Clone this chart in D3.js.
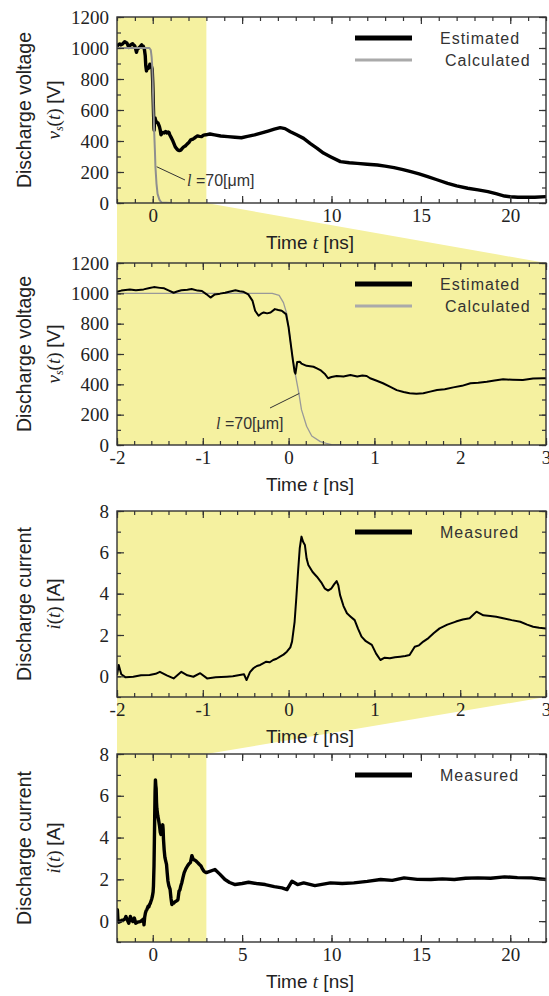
<!DOCTYPE html>
<html>
<head>
<meta charset="utf-8">
<script src="https://cdn.jsdelivr.net/npm/d3@7"></script>
<style>
  body { margin: 0; background: #fff; }
  svg { display: block; }
</style>
</head>
<body>
<script>
// calculated voltage (l = 70 um), t [ns] / v [V]
const calcT = [-2, -0.19, -0.11, -0.06, -0.02, 0.01, 0.04, 0.08, 0.12, 0.15, 0.21, 0.27, 0.37, 0.44, 0.5, 1.0];
const calcV = [1000, 1000, 987, 939, 863, 733, 602, 461, 341, 233, 124, 59, 22, 11, 3, 0];

// estimated discharge voltage
const estT = [-2.00, -1.95, -1.85, -1.78, -1.69, -1.62, -1.57, -1.50, -1.45, -1.40, -1.34, -1.30, -1.25, -1.18, -1.13, -1.06,
  -1.01, -0.96, -0.91, -0.86, -0.80, -0.74, -0.68, -0.62, -0.57, -0.53, -0.47, -0.42, -0.39, -0.35, -0.32, -0.29,
  -0.25, -0.21, -0.16, -0.12, -0.08, -0.03, 0.00, 0.03, 0.05, 0.07, 0.08, 0.10, 0.13, 0.15, 0.21, 0.29, 0.33, 0.37,
  0.42, 0.46, 0.50, 0.56, 0.64, 0.72, 0.80, 0.86, 0.91, 0.95, 1.02, 1.10, 1.18, 1.26, 1.34, 1.41, 1.49, 1.57, 1.65,
  1.73, 1.82, 1.92, 2.02, 2.12, 2.21, 2.31, 2.40, 2.50, 2.61, 2.73, 2.85, 2.97, 3.20, 3.46, 3.80, 4.20, 4.60, 4.96,
  5.30, 5.70, 6.10, 6.45, 6.80, 7.13, 7.40, 7.70, 8.05, 8.44, 8.80, 9.20, 9.55, 9.94, 10.50, 11.00, 11.44, 12.00,
  12.57, 13.00, 13.50, 14.00, 14.44, 14.90, 15.38, 15.90, 16.50, 17.00, 17.62, 18.20, 18.75, 19.20, 19.68, 20.00,
  20.43, 21.00, 21.37, 22.00];
const estV = [1011, 1018, 1026, 1020, 1026, 1035, 1041, 1036, 1033, 1020, 1004, 1012, 1020, 1024, 1028, 1018,
  1015, 995, 972, 993, 998, 1004, 1012, 1020, 1014, 1011, 993, 950, 885, 852, 866, 874,
  868, 874, 896, 890, 885, 863, 776, 646, 559, 483, 470, 548, 549, 537, 522, 516, 505, 494,
  470, 440, 448, 455, 452, 461, 452, 458, 455, 440, 425, 407, 385, 362, 350, 341, 338, 341, 352,
  362, 368, 380, 390, 407, 410, 417, 425, 433, 430, 428, 438, 440, 445, 439, 432, 428, 424, 421,
  430, 439, 452, 464, 476, 486, 480, 460, 440, 417, 385, 353, 322, 299, 267, 260, 256, 250,
  245, 238, 228, 215, 202, 188, 170, 150, 127, 110, 95, 85, 73, 60, 45, 40,
  37, 38, 37, 41];

// measured discharge current, t [ns] / i [A]
const curT = [-2.00, -1.98, -1.95, -1.90, -1.81, -1.72, -1.62, -1.55, -1.50, -1.42, -1.34, -1.25, -1.18, -1.11, -1.03,
  -0.95, -0.85, -0.72, -0.65, -0.57, -0.52, -0.49, -0.45, -0.41, -0.37, -0.33, -0.26, -0.22, -0.18, -0.14, -0.10,
  -0.06, -0.02, 0.02, 0.04, 0.07, 0.09, 0.11, 0.13, 0.15, 0.17, 0.19, 0.21, 0.23, 0.28, 0.33, 0.38, 0.42, 0.46,
  0.50, 0.53, 0.56, 0.58, 0.60, 0.64, 0.68, 0.72, 0.77, 0.81, 0.85, 0.90, 0.97, 1.02, 1.07, 1.12, 1.18, 1.24,
  1.30, 1.36, 1.41, 1.47, 1.52, 1.57, 1.63, 1.69, 1.76, 1.85, 1.95, 2.03, 2.11, 2.19, 2.27, 2.35, 2.42, 2.50,
  2.60, 2.70, 2.78, 2.85, 2.92, 3.00, 3.48, 3.75, 4.04, 4.30, 4.61, 5.00, 5.36, 5.80, 6.29, 6.80, 7.23, 7.51,
  7.79, 8.10, 8.44, 9.07, 9.94, 10.60, 11.25, 12.00, 12.75, 13.40, 14.06, 14.80, 15.56, 16.20, 16.87, 17.50,
  18.19, 18.90, 19.68, 20.40, 21.18, 22.00];
const curI = [0.05, 0.55, 0.10, -0.05, -0.02, 0.05, 0.06, 0.12, 0.22, 0.05, -0.10, 0.22, 0.05, -0.02, 0.15,
  -0.10, -0.05, -0.02, 0.00, 0.06, 0.10, -0.18, 0.20, 0.39, 0.50, 0.55, 0.71, 0.68, 0.79, 0.85, 0.95,
  1.05, 1.19, 1.40, 1.68, 2.64, 3.80, 5.06, 6.20, 6.76, 6.50, 6.35, 5.70, 5.39, 5.05, 4.82, 4.55, 4.26, 4.15,
  4.26, 4.45, 4.61, 4.40, 3.93, 3.40, 3.05, 2.90, 2.72, 2.30, 1.92, 1.70, 1.52, 1.10, 0.79, 0.90, 0.87, 0.92,
  0.95, 0.98, 1.03, 1.43, 1.50, 1.68, 1.85, 2.08, 2.32, 2.50, 2.65, 2.75, 2.81, 3.13, 2.95, 2.92, 2.88, 2.81,
  2.72, 2.64, 2.50, 2.40, 2.35, 2.32, 2.47, 2.25, 1.99, 1.85, 1.75, 1.80, 1.86, 1.80, 1.75, 1.65, 1.59, 1.51,
  1.91, 1.75, 1.83, 1.70, 1.83, 1.80, 1.83, 1.90, 1.99, 1.95, 2.07, 2.00, 1.99, 2.02, 1.99, 2.05,
  2.07, 2.05, 2.12, 2.08, 2.07, 1.99];

// axis ticks
const wideTicks = [0, 5, 10, 15, 20];
const wideLabels1 = [0, 10, 15, 20];
const narrowTicks = [-2, -1, 0, 1, 2, 3];
const voltTicks = [0, 200, 400, 600, 800, 1000, 1200];
const currTicks = [0, 2, 4, 6, 8];

const width = 549;
const height = 996;
const yellow = '#f5f1a0';
const ink = '#333';
const sans = "'Liberation Sans', Arial, sans-serif";
const serif = "'Liberation Serif', 'Times New Roman', serif";

const estimated = estT.map((t, i) => [t, estV[i]]);
const calculated = calcT.map((t, i) => [t, calcV[i]]);
const measured = curT.map((t, i) => [t, curI[i]]);

const svg = d3.select('body')
  .append('svg')
  .attr('width', width)
  .attr('height', height)
  .attr('viewBox', [0, 0, width, height]);

const left = 117;
const right = 546;

const panels = [
  {
    top: 17, bottom: 203, xDomain: [-2, 22], yDomain: [0, 1200],
    xMajor: wideTicks, xLabels: wideLabels1, xMinor: d3.range(-2, 22.001, 1),
    yMajor: voltTicks, yMinor: d3.range(0, 1201, 100), quantity: 'voltage',
    series: [
      { data: estimated, color: '#000', width: 3.4 },
      { data: calculated, color: '#8f8f8f', width: 2 },
    ],
    legend: [
      { label: 'Estimated', color: '#000', width: 5, dx: 0 },
      { label: 'Calculated', color: '#aaa', width: 3, dx: 5 },
    ],
    note: { t: 0.22, v: 234, x: 185, y: 180, tx: 187, ty: 186 },
  },
  {
    top: 263, bottom: 445, xDomain: [-2, 3], yDomain: [0, 1200],
    xMajor: narrowTicks, xLabels: narrowTicks, xMinor: d3.range(-2, 3.001, 0.2),
    yMajor: voltTicks, yMinor: d3.range(0, 1201, 100), quantity: 'voltage',
    series: [
      { data: calculated, color: '#999', width: 1.3 },
      { data: estimated, color: '#000', width: 2 },
    ],
    legend: [
      { label: 'Estimated', color: '#000', width: 5, dx: 0 },
      { label: 'Calculated', color: '#aaa', width: 3, dx: 5 },
    ],
    note: { t: 0.125, v: 340, x: 270, y: 408, tx: 216, ty: 429 },
  },
  {
    top: 511, bottom: 697, xDomain: [-2, 3], yDomain: [-1, 8],
    xMajor: narrowTicks, xLabels: narrowTicks, xMinor: d3.range(-2, 3.001, 0.2),
    yMajor: currTicks, yMinor: d3.range(-1, 8.001, 1), quantity: 'current',
    series: [{ data: measured, color: '#000', width: 2 }],
    legend: [{ label: 'Measured', color: '#000', width: 5, dx: 0 }],
  },
  {
    top: 754, bottom: 942, xDomain: [-2, 22], yDomain: [-1, 8],
    xMajor: wideTicks, xLabels: wideTicks, xMinor: d3.range(-2, 22.001, 1),
    yMajor: currTicks, yMinor: d3.range(-1, 8.001, 1), quantity: 'current',
    series: [{ data: measured, color: '#000', width: 3.4 }],
    legend: [{ label: 'Measured', color: '#000', width: 5, dx: 0 }],
  },
];

panels.forEach(p => {
  p.x = d3.scaleLinear().domain(p.xDomain).range([left, right]);
  p.y = d3.scaleLinear().domain(p.yDomain).range([p.bottom, p.top]);
});

// zoom trapezoids linking the overview and the detail panels
const zooms = svg.append('g');
[[panels[0], panels[1]], [panels[2], panels[3]]].forEach(([upper, lower]) => {
  const pts = [
    [upper.x(-2), upper.bottom], [upper.x(3), upper.bottom],
    [lower.x(3), lower.top], [lower.x(-2), lower.top],
  ];
  zooms.append('path')
    .attr('d', d3.line()(pts) + 'Z')
    .attr('fill', yellow);
});

panels.forEach((p, k) => {
  const g = svg.append('g');
  const { x, y } = p;

  g.append('rect')
    .attr('x', left).attr('y', p.top)
    .attr('width', right - left).attr('height', p.bottom - p.top)
    .attr('fill', '#fff');
  g.append('rect')
    .attr('x', x(-2)).attr('y', p.top)
    .attr('width', x(3) - x(-2)).attr('height', p.bottom - p.top)
    .attr('fill', yellow);

  const clipId = `clip${k}`;
  svg.append('clipPath').attr('id', clipId)
    .append('rect')
    .attr('x', left).attr('y', p.top)
    .attr('width', right - left).attr('height', p.bottom - p.top);

  const line = d3.line().x(d => x(d[0])).y(d => y(d[1]));
  p.series.forEach(s => {
    g.append('path')
      .attr('clip-path', `url(#${clipId})`)
      .attr('d', line(s.data))
      .attr('fill', 'none')
      .attr('stroke', s.color)
      .attr('stroke-width', s.width)
      .attr('stroke-linejoin', 'round');
  });

  // axes, ticks inward on all four sides (plain hyphen for negatives)
  const num = d => String(d);
  const axes = [
    [d3.axisBottom(x).tickValues(p.xMajor).tickSize(-7).tickPadding(6)
      .tickFormat(d => p.xLabels.includes(d) ? num(d) : ''), `translate(0,${p.bottom})`],
    [d3.axisBottom(x).tickValues(p.xMinor).tickSize(-4).tickFormat(''), `translate(0,${p.bottom})`],
    [d3.axisTop(x).tickValues(p.xMajor).tickSize(-7).tickFormat(''), `translate(0,${p.top})`],
    [d3.axisTop(x).tickValues(p.xMinor).tickSize(-4).tickFormat(''), `translate(0,${p.top})`],
    [d3.axisLeft(y).tickValues(p.yMajor).tickSize(-7).tickPadding(8).tickFormat(num), `translate(${left},0)`],
    [d3.axisLeft(y).tickValues(p.yMinor).tickSize(-4).tickFormat(''), `translate(${left},0)`],
    [d3.axisRight(y).tickValues(p.yMajor).tickSize(-7).tickFormat(''), `translate(${right},0)`],
    [d3.axisRight(y).tickValues(p.yMinor).tickSize(-4).tickFormat(''), `translate(${right},0)`],
  ];
  axes.forEach(([axis, tr]) => {
    const a = g.append('g').attr('transform', tr).call(axis)
      .attr('font-family', serif)
      .attr('font-size', 19);
    a.select('.domain').remove();
    a.selectAll('line').attr('stroke', ink).attr('stroke-width', 1.2);
    a.selectAll('text')
      .attr('fill', '#222')
      .style('font-family', serif)
      .style('font-size', '19px');
  });

  g.append('rect')
    .attr('x', left).attr('y', p.top)
    .attr('width', right - left).attr('height', p.bottom - p.top)
    .attr('fill', 'none')
    .attr('stroke', ink)
    .attr('stroke-width', 1.4);

  // legend
  p.legend.forEach((e, i) => {
    const ly = p.top + 21 + i * 22;
    g.append('line')
      .attr('x1', 355).attr('x2', 412).attr('y1', ly).attr('y2', ly)
      .attr('stroke', e.color).attr('stroke-width', e.width);
    g.append('text')
      .attr('x', 440 + e.dx).attr('y', ly)
      .attr('dy', '0.35em')
      .attr('fill', '#333')
      .style('font-family', sans)
      .style('font-size', '16px')
      .style('letter-spacing', '1px')
      .text(e.label);
  });

  // annotation l = 70 um
  if (p.note) {
    const n = p.note;
    g.append('line')
      .attr('x1', x(n.t)).attr('y1', y(n.v))
      .attr('x2', n.x).attr('y2', n.y)
      .attr('stroke', '#333').attr('stroke-width', 1);
    const t = g.append('text')
      .attr('x', n.tx).attr('y', n.ty)
      .attr('fill', '#333')
      .style('font-family', sans)
      .style('font-size', '16px');
    t.append('tspan').style('font-family', serif).style('font-style', 'italic').text('l');
    t.append('tspan').text(' =70[μm]');
  }

  // x title
  const xt = g.append('text')
    .attr('x', 310).attr('y', p.bottom + 39)
    .attr('text-anchor', 'middle')
    .attr('dy', '0.35em')
    .attr('fill', '#222')
    .style('font-family', sans)
    .style('font-size', '19px');
  xt.append('tspan').text('Time ');
  xt.append('tspan').style('font-family', serif).style('font-style', 'italic').text('t');
  xt.append('tspan').text(' [ns]');

  // y title, two lines
  const mid = (p.top + p.bottom) / 2;
  g.append('text')
    .attr('transform', `translate(24,${mid}) rotate(-90)`)
    .attr('text-anchor', 'middle')
    .attr('dy', '0.35em')
    .attr('fill', '#222')
    .style('font-family', sans)
    .style('font-size', '19.5px')
    .text(p.quantity === 'voltage' ? 'Discharge voltage' : 'Discharge current');

  const yt = g.append('text')
    .attr('transform', `translate(53,${mid}) rotate(-90)`)
    .attr('text-anchor', 'middle')
    .attr('dy', '0.35em')
    .attr('fill', '#222')
    .style('font-family', serif)
    .style('font-size', '19px');
  if (p.quantity === 'voltage') {
    yt.append('tspan').style('font-style', 'italic').text('v');
    yt.append('tspan').style('font-style', 'italic').style('font-size', '12px').attr('dy', '3').text('s');
    yt.append('tspan').attr('dy', '-3').text('(');
    yt.append('tspan').style('font-style', 'italic').text('t');
    yt.append('tspan').text(') ');
    yt.append('tspan').style('font-family', sans).text('[V]');
  } else {
    yt.append('tspan').style('font-style', 'italic').text('i');
    yt.append('tspan').text('(');
    yt.append('tspan').style('font-style', 'italic').text('t');
    yt.append('tspan').text(') ');
    yt.append('tspan').style('font-family', sans).text('[A]');
  }
});
</script>
</body>
</html>
